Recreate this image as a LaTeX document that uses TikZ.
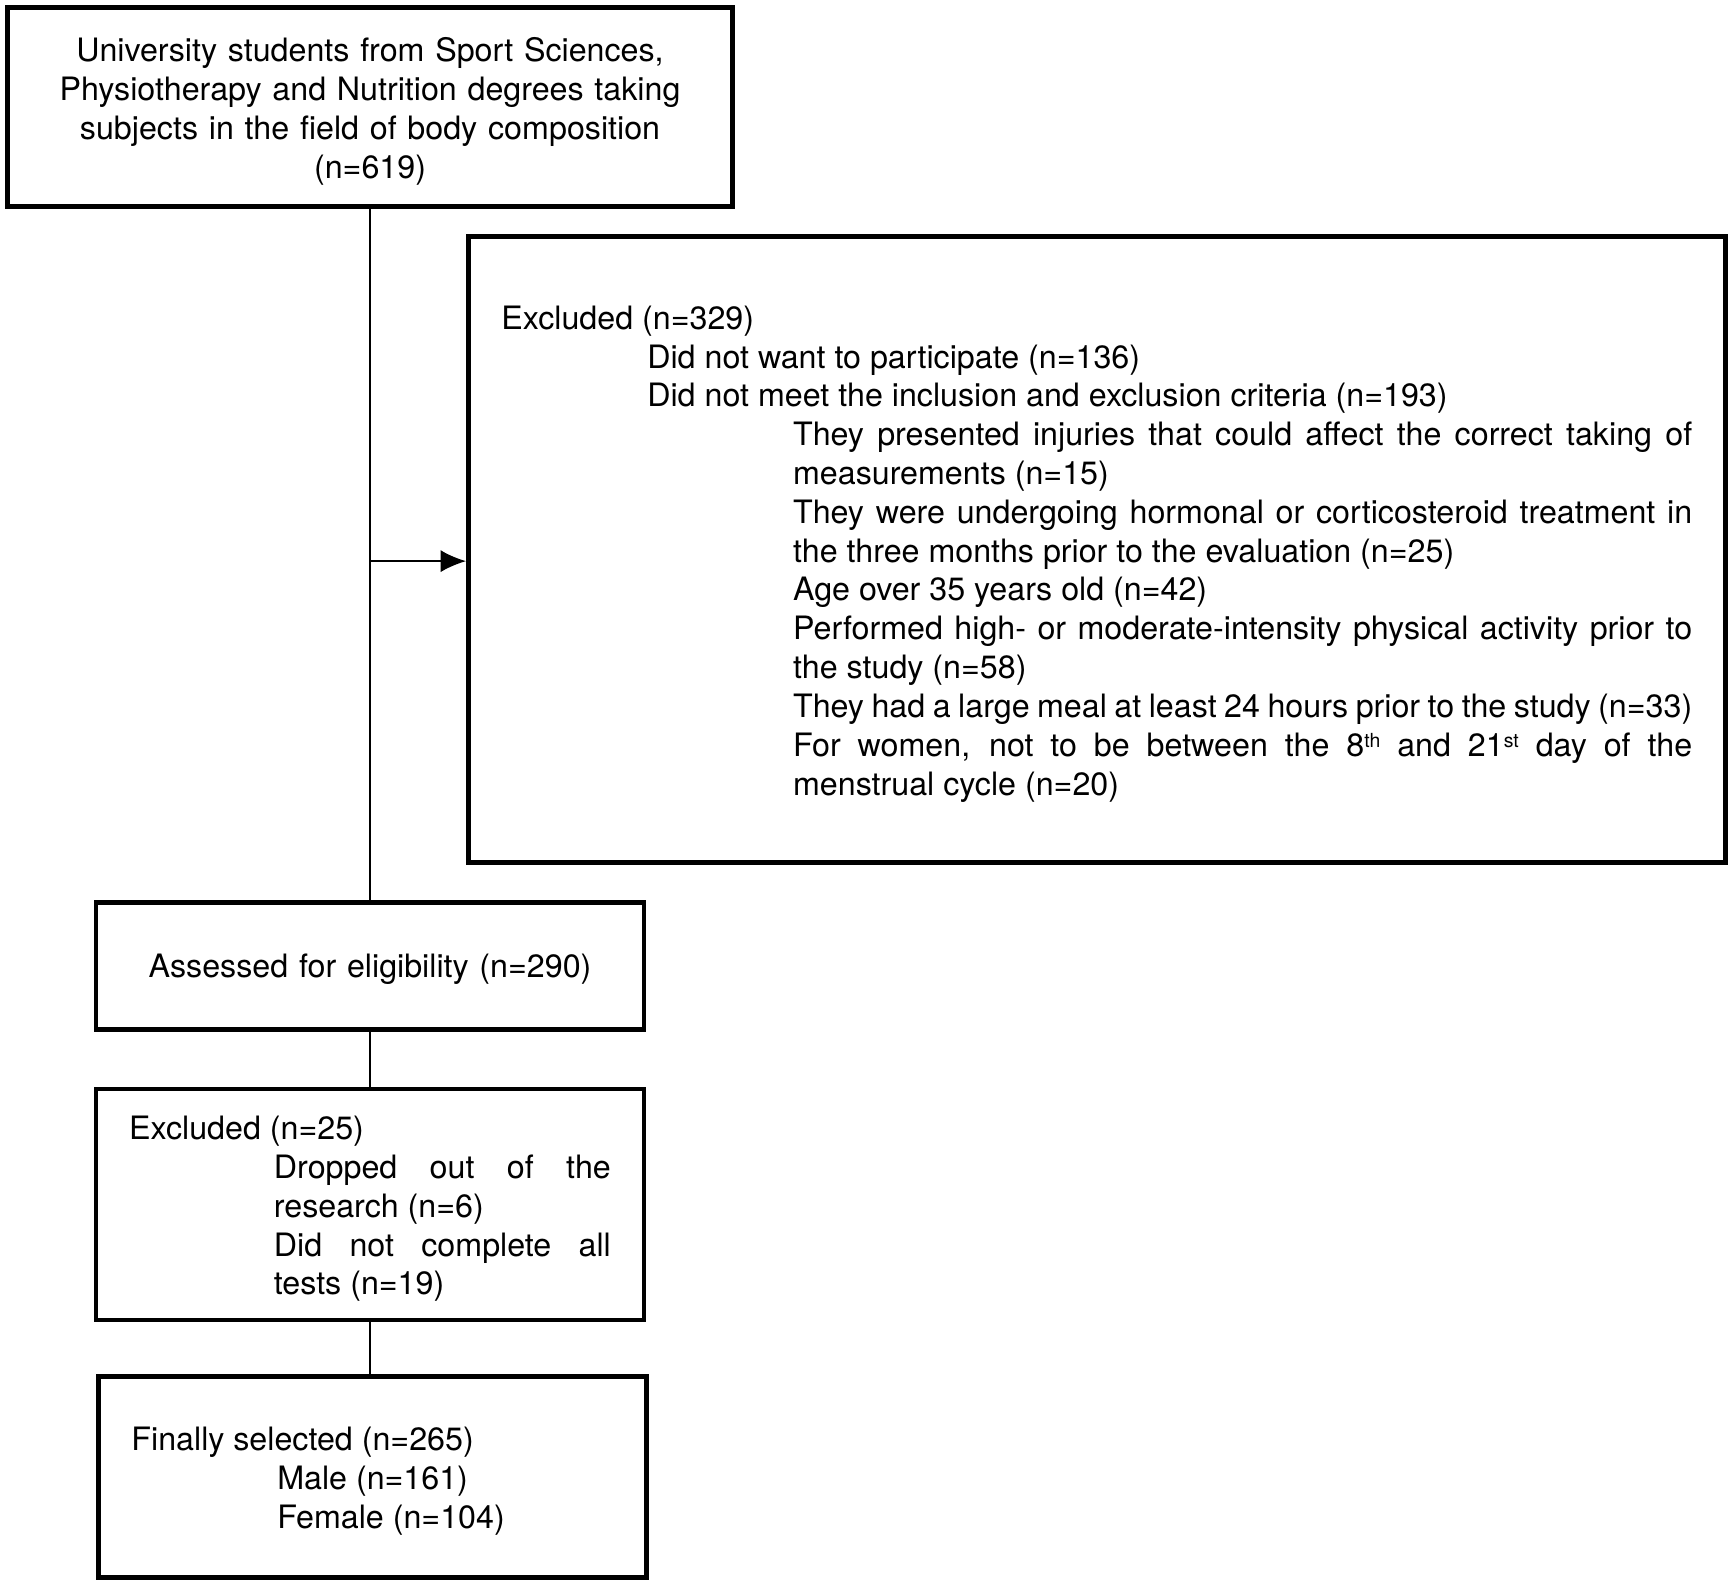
\documentclass[tikz,border=0pt]{standalone}
\usepackage{fontspec}
\setmainfont{TeX Gyre Heros}
\usepackage{tikz}
\usetikzlibrary{positioning}
\usetikzlibrary{arrows.meta}
\tikzset {
  % framed boxes of the flow chart
  box/.style = {draw, rectangle, line width=1.2pt, inner xsep=3mm, inner ysep=0pt,
    font={\fontsize{8.3}{10}\selectfont\parindent=0pt\parskip=0pt}},
  % boxes holding an indented list
  listbox/.style = {box, align=justify},
  % thin lines between the boxes
  link/.style = {line width=0.5pt},
  arrow/.style = {link, -{Latex[length=2.3mm, width=2mm]}},
}
% one paragraph of a list, indented by #1
\newcommand{\lvl}[2]{{\leftskip=#1\noindent #2\par}}
% small raised ordinal
\newcommand{\ord}[1]{\raisebox{0.5ex}{\fontsize{5}{5}\selectfont #1}}
% pushes the text a little down in its box
\newcommand{\pushdown}{\par\kern-0.8mm\relax}

\begin{document}
\begin{tikzpicture}[x={(1mm,0)}, y={(0,-1mm)}]
  \useasboundingbox (0,0) rectangle (156.8,143.6);

  \node[box, text width=59.6mm, align=center, minimum height=18mm] (pool) at (33.5,9.7)
    {University students from Sport Sciences,\\
     Physiotherapy and Nutrition degrees taking\\
     subjects in the field of body composition\\
     (n=619)\pushdown};
  \node[listbox, text width=107.8mm, minimum height=56.7mm] (excl) at (99.3,49.75) {%
    \lvl{0mm}{Excluded (n=329)}%
    \lvl{13.2mm}{Did not want to participate (n=136)}%
    \lvl{13.2mm}{Did not meet the inclusion and exclusion criteria (n=193)}%
    \lvl{26.4mm}{They presented injuries that could affect the correct taking of\linebreak measurements (n=15)}%
    \lvl{26.4mm}{They were undergoing hormonal or corticosteroid treatment in\linebreak the three months prior to the evaluation (n=25)}%
    \lvl{26.4mm}{Age over 35 years old (n=42)}%
    \lvl{26.4mm}{Performed high- or moderate-intensity physical activity prior to\linebreak the study (n=58)}%
    \lvl{26.4mm}{They had a large meal at least 24 hours prior to the study (n=33)}%
    \lvl{26.4mm}{For women, not to be between the 8\ord{th} and 21\ord{st} day of the\linebreak menstrual cycle (n=20)}\pushdown};
  \node[box, text width=43.6mm, align=center, minimum height=11.5mm] (elig) at (33.5,87.45)
    {Assessed for eligibility (n=290)\pushdown};
  \node[listbox, text width=43.6mm, minimum height=20.9mm] (drop) at (33.5,109.05) {%
    \lvl{0mm}{Excluded (n=25)}%
    \lvl{13.1mm}{Dropped out of the\linebreak research (n=6)}%
    \lvl{13.1mm}{Did not complete all\linebreak tests (n=19)}\pushdown};
  \node[listbox, text width=43.6mm, minimum height=18.2mm] (final) at (33.7,133.7) {%
    \lvl{0mm}{Finally selected (n=265)}%
    \lvl{13.2mm}{Male (n=161)}%
    \lvl{13.2mm}{Female (n=104)}\pushdown};

  \coordinate (split) at (33.5,50.8);
  \draw[link] (pool) -- (elig);
  \draw[arrow] (split) -- (split -| excl.west);
  \draw[link] (elig) -- (drop);
  \draw[link] (drop.south) -- (drop.south |- final.north);
\end{tikzpicture}
\end{document}
